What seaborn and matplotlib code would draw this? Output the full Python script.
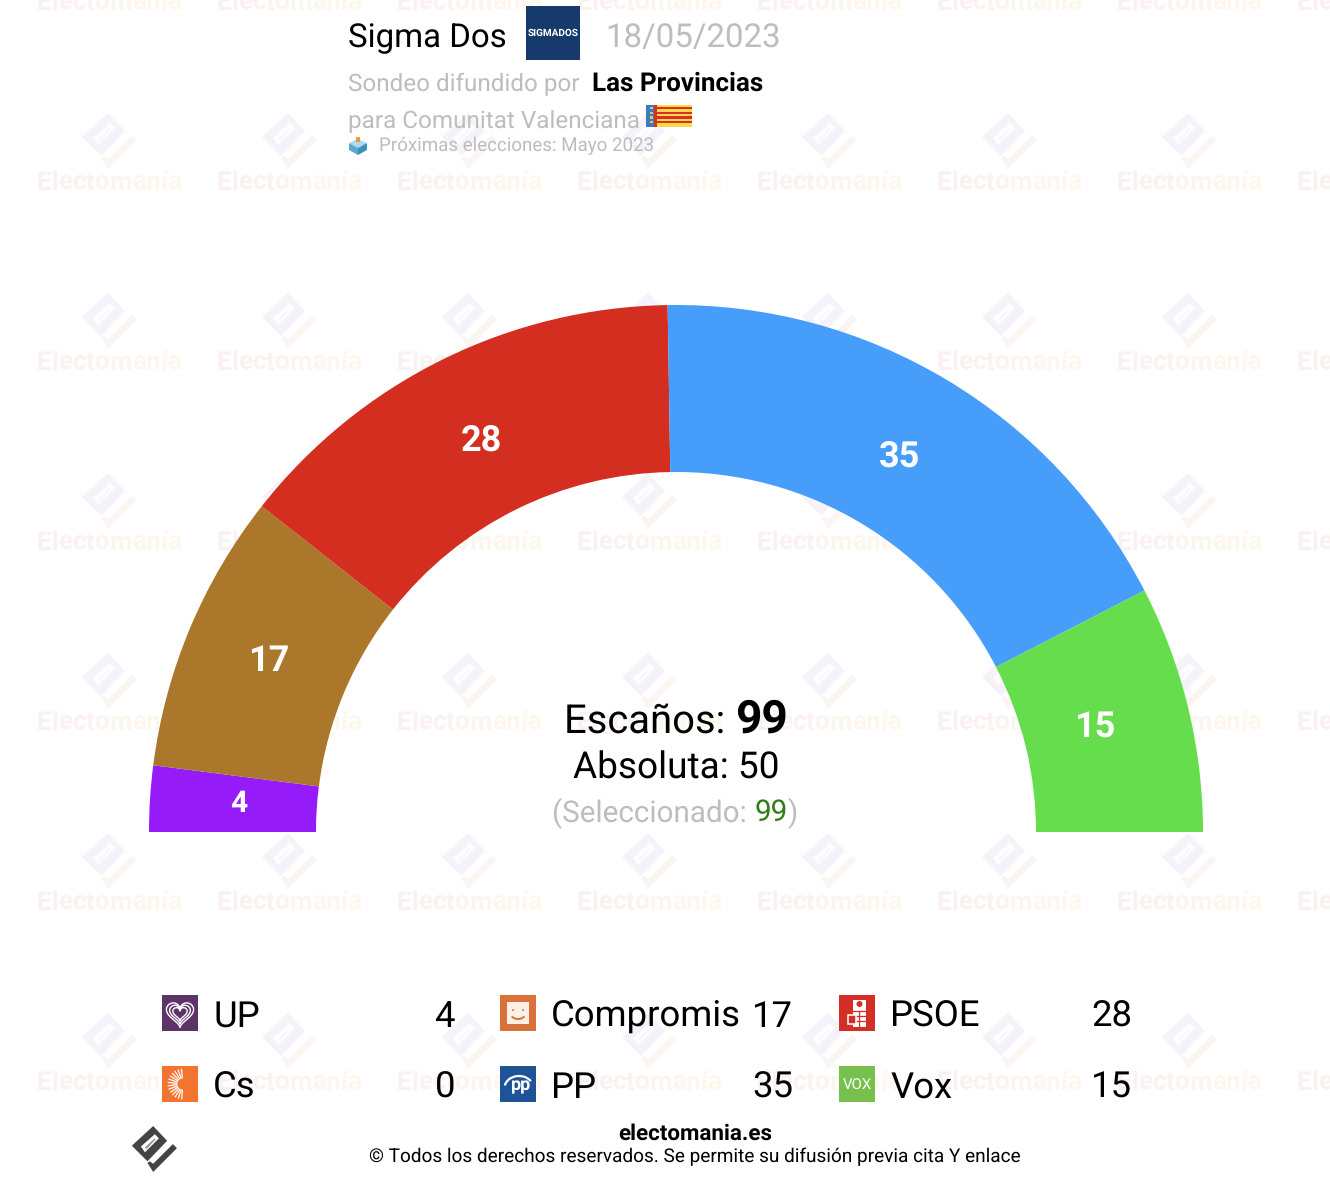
"""
Sondeo Sigma Dos - hemiciclo Comunitat Valenciana
"""

import numpy as np
import pandas as pd
import matplotlib
matplotlib.use("Agg")
import matplotlib.pyplot as plt
from matplotlib.colors import to_rgb
from matplotlib.patches import Arc, Circle, Polygon, Rectangle
import seaborn as sns

# Datos
parties = ["UP", "Cs", "Compromis", "PSOE", "PP", "Vox"]
seats = [4, 0, 17, 28, 35, 15]
party_colors = ["#951BF9", "#F27430", "#AB772A", "#D32E1F", "#479EFA", "#66DD4D"]
icon_colors = ["#5E3468", "#F27430", "#D9723A", "#D32F27", "#1F5397", "#78C04D"]
legend_order = ["UP", "Compromis", "PSOE", "Cs", "PP", "Vox"]
total_seats = 99
majority = 50

FONT = "Roboto"
GREY = "#BDBDBD"

sns.set_theme(style="white")
plt.rcParams["font.family"] = [FONT, "DejaVu Sans"]
plt.rcParams["text.hinting"] = "no_hinting"

df = pd.DataFrame({"party": parties, "seats": seats, "color": party_colors, "icon": icon_colors})

fig = plt.figure(figsize=(13.3, 11.84), dpi=100, facecolor="white")
ax = fig.add_axes([0, 0, 1, 1])


def px(size):
    return size * 0.72


def text_runs(x, y, runs):
    """Escribe trozos de texto seguidos sobre la misma linea base"""
    renderer = fig.canvas.get_renderer()
    for label, kwargs in runs:
        t = ax.text(x, y, label, va="baseline", ha="left", **kwargs)
        x += t.get_window_extent(renderer).width
    return x


def watermark_text(cx, y):
    """Texto 'Electomanía' con degradado rosa a crema"""
    label = "Electomanía"
    renderer = fig.canvas.get_renderer()
    kwargs = dict(fontsize=px(26), fontweight="bold", zorder=1)
    probe = ax.text(0, 0, label, **kwargs)
    width = probe.get_window_extent(renderer).width
    x0 = cx - width / 2
    start = np.array(to_rgb("#F9F0F2"))
    end = np.array(to_rgb("#FEF8EC"))
    for i, ch in enumerate(label):
        probe.set_text(label[:i + 1])
        right = probe.get_window_extent(renderer).width
        probe.set_text(label[i])
        own = probe.get_window_extent(renderer).width
        col = start + (end - start) * (i / (len(label) - 1))
        ax.text(x0 + right - own, y, ch, va="baseline", ha="left", color=tuple(col), **kwargs)
    probe.remove()


def logo(cx, cy, scale=1.0, body="#F6F2F9", tick="#FBF5F2", zorder=1):
    """Logo de Electomanía: rombo con hueco y marca de verificación"""
    shape = np.array([(-27, -4), (-1, -28), (16, -10), (-8, 15)])
    hole = np.array([(-16, -3), (1, -18), (6, -13), (-11, 4)])
    slit = np.array([(-11, -2), (1, -13), (2, -12), (-9, 0)])
    check = np.array([(28, -1), (23, -6), (-1, 18), (-5, 15), (-8, 17), (-1, 28)])
    center = np.array([cx, cy])
    ax.add_patch(Polygon(shape * scale + center, fc=body, ec="none", zorder=zorder))
    ax.add_patch(Polygon(hole * scale + center, fc="white", ec="none", zorder=zorder))
    ax.add_patch(Polygon(slit * scale + center, fc=body, ec="none", alpha=0.6, zorder=zorder))
    ax.add_patch(Polygon(check * scale + center, fc=tick, ec="none", zorder=zorder))


def party_icon(name, x, y, color, size=36):
    ax.add_patch(Rectangle((x, y), size, size, fc=color, ec="none", zorder=4))
    cx, cy = x + size / 2, y + size / 2
    if name == "UP":
        t = np.linspace(0, 2 * np.pi, 60)
        hx = 16 * np.sin(t) ** 3
        hy = -(13 * np.cos(t) - 5 * np.cos(2 * t) - 2 * np.cos(3 * t) - np.cos(4 * t))
        for k in [0.85, 0.65, 0.45]:
            ax.plot(cx + hx * k, cy + hy * k, color="white", lw=1.0, zorder=5)
    elif name == "Compromis":
        ax.add_patch(Rectangle((x + 7, y + 7), 22, 22, fc="#FBEFE6", ec="none", zorder=5))
        ax.add_patch(Arc((cx, cy + 1), 14, 10, theta1=20, theta2=160, color=color, lw=1.4, zorder=6))
        ax.add_patch(Circle((cx - 5, cy - 3), 1, fc=color, ec="none", zorder=6))
        ax.add_patch(Circle((cx + 5, cy - 3), 1, fc=color, ec="none", zorder=6))
    elif name == "Cs":
        for a in np.radians(np.arange(95, 266, 13)):
            ax.plot([cx + 3 + 6 * np.cos(a), cx + 3 + 15 * np.cos(a)],
                    [cy + 6 * np.sin(a), cy + 15 * np.sin(a)], color="white", lw=0.9, zorder=5)
    elif name == "PSOE":
        ax.add_patch(Rectangle((x + 14, y + 5), 13, 27, fc="white", ec="none", zorder=5))
        ax.add_patch(Circle((x + 20.5, y + 9), 3, fc=color, ec="none", zorder=6))
        for yy in [y + 16, y + 21, y + 26]:
            ax.plot([x + 14, x + 27], [yy, yy], color=color, lw=0.9, zorder=6)
        ax.plot([x + 20, x + 20], [y + 16, y + 32], color=color, lw=0.9, zorder=6)
        ax.add_patch(Rectangle((x + 8.5, y + 20), 8, 9, fc=color, ec="white", lw=1.1, zorder=7))
    elif name == "PP":
        ax.text(cx + 2, cy + 6, "pp", color="white", fontsize=px(18), fontweight="bold",
                ha="center", va="baseline", zorder=5)
        ax.add_patch(Arc((cx + 1, cy + 4), 29, 24, theta1=190, theta2=330, color="white", lw=1.6, zorder=5))
    elif name == "Vox":
        ax.text(cx, cy + 5, "VOX", color="white", fontsize=px(15), ha="center", va="baseline", zorder=5)


# Marca de agua
for cx in 109 + 180 * np.arange(8):
    for row in range(7):
        watermark_text(cx, 10 + 180 * row)
        if row > 0:
            logo(cx, 141 + 180 * (row - 1))

# Semicirculo
cx0, cy0 = 676, 832
outer, inner = 527, 360
wedges, _ = ax.pie(df["seats"].tolist() + [total_seats], colors=df["color"].tolist() + ["white"],
                   startangle=180, counterclock=True, radius=outer, center=(cx0, cy0),
                   wedgeprops={"width": outer - inner, "linewidth": 0, "zorder": 2})
wedges[-1].set_visible(False)

ax.set_xlim(0, 1330)
ax.set_ylim(1184, 0)
ax.set_aspect("auto")
ax.axis("off")

# ajuste fino de las etiquetas respecto al centro del sector
label_shift = {"UP": (5, -1), "Compromis": (2, 0), "PSOE": (2, 6), "PP": (-4, 5), "Vox": (-12, -2)}
mid_r = (outer + inner) / 2
for w, name, value in zip(wedges, df["party"], df["seats"]):
    if value == 0:
        continue
    a = np.radians((w.theta1 + w.theta2) / 2)
    dx, dy = label_shift[name]
    ax.text(cx0 + mid_r * np.cos(a) + dx, cy0 + mid_r * np.sin(a) + 1 + dy, str(value), color="white",
            fontsize=px(36 if value > 4 else 30), fontweight="bold", ha="center", va="center", zorder=3)

# Cabecera
text_runs(348, 47, [("Sigma Dos", dict(fontsize=px(33), color="black"))])
ax.add_patch(Rectangle((526, 6), 54, 54, fc="#163A6B", ec="none", zorder=4))
ax.text(553, 33, "SIGMADOS", color="white", fontsize=px(10), fontweight="bold", ha="center", va="center", zorder=5)
text_runs(605, 47, [("18/05/2023", dict(fontsize=px(33), color=GREY))])
text_runs(348, 91, [("Sondeo difundido por", dict(fontsize=px(24.3), color=GREY))])
text_runs(592, 91, [("Las Provincias", dict(fontsize=px(26), color="black", fontweight="bold"))])
text_runs(348, 127, [("para Comunitat Valenciana", dict(fontsize=px(24.2), color=GREY))])
text_runs(379, 151, [("Próximas elecciones: Mayo 2023", dict(fontsize=px(18.8), color=GREY))])

# Bandera
ax.add_patch(Rectangle((646, 105), 46, 22, fc="#FFD84A", ec="none", zorder=4))
for stripe in range(4):
    ax.add_patch(Rectangle((654, 107 + 4.6 * stripe), 38, 2.3, fc="#D5302A", ec="none", zorder=5))
ax.add_patch(Rectangle((646, 105), 8, 22, fc="#3C7BBE", ec="none", zorder=5))
ax.add_patch(Rectangle((654, 105), 3, 22, fc="#D5302A", ec="none", zorder=5))
for stripe in range(4):
    ax.add_patch(Rectangle((650, 107 + 4.6 * stripe), 3, 2.3, fc="#E3C94A", ec="none", zorder=6))

# Urna
ax.add_patch(Polygon([(349, 143), (358, 139), (367, 143), (358, 148)], fc="#A9DDF0", ec="none", zorder=4))
ax.add_patch(Polygon([(349, 143), (358, 148), (358, 155), (349, 150)], fc="#5AA9D2", ec="none", zorder=4))
ax.add_patch(Polygon([(358, 148), (367, 143), (367, 150), (358, 155)], fc="#3F8FBC", ec="none", zorder=4))
ax.add_patch(Rectangle((356, 137), 4, 5, fc="#EE9A2E", ec="none", zorder=5))

# Centro
text_runs(564, 733, [("Escaños: ", dict(fontsize=px(40), color="black")),
                     (str(total_seats), dict(fontsize=px(46), color="black", fontweight="bold"))])
ax.text(676, 779, f"Absoluta: {majority}", fontsize=px(37), color="black", ha="center", va="baseline")
text_runs(552, 821, [("(Seleccionado: ", dict(fontsize=px(29.6), color=GREY)),
                     (str(total_seats), dict(fontsize=px(29.6), color="#2E7D16")),
                     (")", dict(fontsize=px(29.6), color=GREY))])

# Leyenda
col_x = [162, 500, 839]
row_y = [995, 1066]
for i, name in enumerate(legend_order):
    row = df[df["party"] == name].iloc[0]
    x, y = col_x[i % 3], row_y[i // 3]
    party_icon(name, x, y, row["icon"])
    ax.text(x + 51, y + 32, name, fontsize=px(36.5), color="black", ha="left", va="baseline", zorder=5)
    ax.text(x + 293, y + 32, str(row["seats"]), fontsize=px(36.5), color="black", ha="right", va="baseline", zorder=5)

# Pie
logo(154, 1149, scale=0.82, body="#444444", tick="#444444", zorder=4)
ax.text(695, 1140, "electomania.es", fontsize=px(22.4), fontweight="bold", color="black", ha="center", va="baseline")
ax.text(695, 1162, "© Todos los derechos reservados. Se permite su difusión previa cita Y enlace",
        fontsize=px(19), color="black", ha="center", va="baseline")

fig.savefig("out.png", dpi=100)
